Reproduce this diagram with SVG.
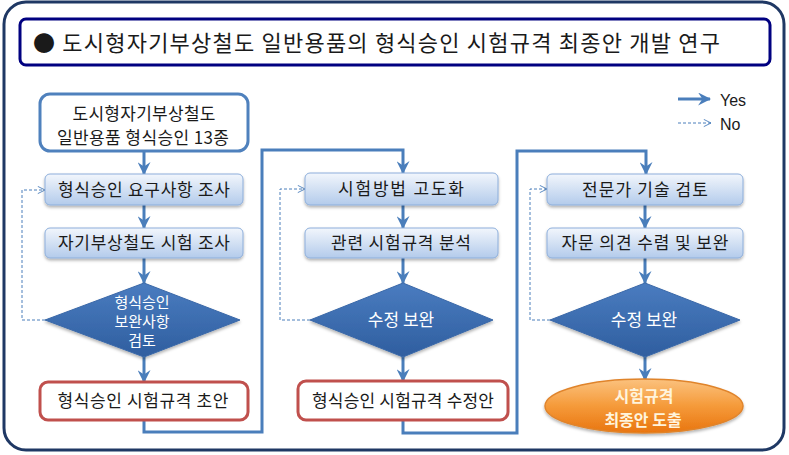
<svg xmlns="http://www.w3.org/2000/svg" width="789" height="455" viewBox="0 0 789 455">
<style>
text{font-family:"Noto Sans CJK KR","Noto Sans",sans-serif;fill:#1a1a1a;text-anchor:middle}
.t{font-size:17px}
.w{fill:#ffffff;font-size:15px}
.w2{fill:#ffffff;font-size:17px}
.o{fill:#FFF4DC;font-size:16px;font-weight:bold}
.box{fill:url(#gb);stroke:#8DAEDB;stroke-width:1;filter:url(#sh)}
.dia{fill:url(#gd);stroke:#3A68A8;stroke-width:1;filter:url(#sh)}
.red{fill:#ffffff;stroke:#C0504D;stroke-width:3}
.st{fill:#ffffff;stroke:#4F81BD;stroke-width:3}
.c{fill:none;stroke:#4A7EBB;stroke-width:3;marker-end:url(#ah)}
.d{fill:none;stroke:#4A7EBB;stroke-width:1;stroke-dasharray:3,2;marker-end:url(#oh)}
</style>
<defs>
<linearGradient id="gb" x1="0" y1="0" x2="0" y2="1"><stop offset="0" stop-color="#F2F6FC"/><stop offset="1" stop-color="#B3CBEB"/></linearGradient>
<linearGradient id="gd" x1="0" y1="0" x2="0" y2="1"><stop offset="0" stop-color="#4A7CC0"/><stop offset="1" stop-color="#2F5E9F"/></linearGradient>
<linearGradient id="go" x1="0" y1="0" x2="0" y2="1"><stop offset="0" stop-color="#FBC27E"/><stop offset="0.5" stop-color="#F59A3A"/><stop offset="1" stop-color="#E9750F"/></linearGradient>
<filter id="sh" x="-10%" y="-10%" width="120%" height="130%"><feDropShadow dx="0" dy="2" stdDeviation="1.5" flood-color="#000" flood-opacity="0.3"/></filter>
<marker id="ah" markerUnits="userSpaceOnUse" viewBox="0 0 12 12" refX="11" refY="6" markerWidth="13" markerHeight="13" orient="auto"><path d="M0,0 L12,6 L0,12 L4,6 z" fill="#4A7EBB"/></marker>
<marker id="oh" markerUnits="userSpaceOnUse" viewBox="0 0 10 10" refX="9" refY="5" markerWidth="9" markerHeight="9" orient="auto"><path d="M1,1 L9,5 L1,9" fill="none" stroke="#4A7EBB" stroke-width="1"/></marker>
</defs>
<rect x="4" y="2" width="780" height="448" rx="22" fill="#ffffff" stroke="#1F3864" stroke-width="3"/>
<g id="title">
<rect x="20" y="19" width="750" height="46" rx="6" fill="#ffffff" stroke="#000080" stroke-width="3"/>
<text x="33" y="51" style="text-anchor:start;font-size:22px" textLength="687">● 도시형자기부상철도 일반용품의 형식승인 시험규격 최종안 개발 연구</text>
</g>
<g id="legend">
<path d="M678,99 H710" class="c"/>
<text x="720" y="106" style="text-anchor:start;font-family:'Liberation Sans',Arial,sans-serif;font-size:16px">Yes</text>
<path d="M678,123 H711" class="d"/>
<text x="720" y="130" style="text-anchor:start;font-family:'Liberation Sans',Arial,sans-serif;font-size:16px">No</text>
</g>
<g id="connectors">
<path class="c" d="M144,151 V174"/>
<path class="c" d="M144,205 V228"/>
<path class="c" d="M144,258 V283"/>
<path class="c" d="M144,357 V382"/>
<path class="c" d="M144,420 V432 H262 V150 H403 V173"/>
<path class="c" d="M403,205 V228"/>
<path class="c" d="M403,258 V283"/>
<path class="c" d="M403,357 V381"/>
<path class="c" d="M403,420 V433 H517 V151 H646 V174"/>
<path class="c" d="M645,205 V228"/>
<path class="c" d="M645,258 V283"/>
<path class="c" d="M645,357 V380"/>
<path class="d" d="M45,320 H22 V190 H45"/>
<path class="d" d="M310,320 H280 V189 H305"/>
<path class="d" d="M550,320 H530 V189 H547"/>
</g>
<g id="n_start">
<rect class="st" x="40" y="94" width="208" height="57" rx="10"/>
<text class="t" x="144" y="120" textLength="143">도시형자기부상철도</text>
<text class="t" x="143" y="144" textLength="172">일반용품 형식승인 13종</text>
</g>
<g id="n_c1b1">
<rect class="box" x="45" y="174" width="198" height="31" rx="5"/>
<text class="t" x="144" y="196" textLength="172">형식승인 요구사항 조사</text>
</g>
<g id="n_c1b2">
<rect class="box" x="45" y="228" width="198" height="30" rx="5"/>
<text class="t" x="144" y="249" textLength="172">자기부상철도 시험 조사</text>
</g>
<g id="n_c1d">
<polygon class="dia" points="144,283 240,320 144,357 45,320"/>
<text class="w" x="142" y="308">형식승인</text>
<text class="w" x="142" y="327">보완사항</text>
<text class="w" x="142" y="346">검토</text>
</g>
<g id="n_c1r">
<rect class="red" x="40" y="382" width="208" height="38" rx="8"/>
<text class="t" x="143" y="407" textLength="171">형식승인 시험규격 초안</text>
</g>
<g id="n_c2b1">
<rect class="box" x="305" y="173" width="193" height="32" rx="5"/>
<text class="t" x="401" y="195" textLength="126">시험방법 고도화</text>
</g>
<g id="n_c2b2">
<rect class="box" x="305" y="228" width="193" height="30" rx="5"/>
<text class="t" x="401" y="249" textLength="140">관련 시험규격 분석</text>
</g>
<g id="n_c2d">
<polygon class="dia" points="403,283 493,320 403,357 310,320"/>
<text class="w2" x="401" y="326">수정 보완</text>
</g>
<g id="n_c2r">
<rect class="red" x="298" y="381" width="210" height="39" rx="8"/>
<text class="t" x="403" y="407" textLength="182">형식승인 시험규격 수정안</text>
</g>
<g id="n_c3b1">
<rect class="box" x="547" y="174" width="196" height="31" rx="5"/>
<text class="t" x="645" y="196" textLength="126">전문가 기술 검토</text>
</g>
<g id="n_c3b2">
<rect class="box" x="547" y="228" width="196" height="30" rx="5"/>
<text class="t" x="645" y="249" textLength="167">자문 의견 수렴 및 보완</text>
</g>
<g id="n_c3d">
<polygon class="dia" points="645,283 740,320 645,357 550,320"/>
<text class="w2" x="644" y="326">수정 보완</text>
</g>
<g id="n_end">
<ellipse cx="644" cy="406" rx="99" ry="27" fill="url(#go)" stroke="#E0842C" stroke-width="1.5" filter="url(#sh)"/>
<text class="o" x="644" y="402">시험규격</text>
<text class="o" x="643" y="426">최종안 도출</text>
</g>
</svg>
